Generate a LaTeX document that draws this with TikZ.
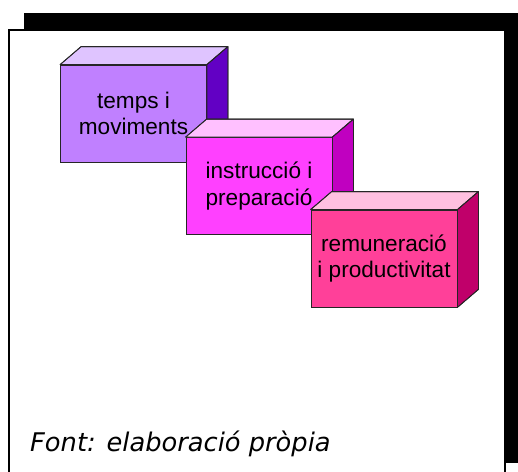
\documentclass[tikz,border=0pt]{standalone}
\usepackage{fontspec}
\setmainfont{Liberation Sans}
\newfontfamily\footfont{DejaVu Sans}
\usetikzlibrary{calc}
\definecolor{aF}{HTML}{C080FF}
\definecolor{aT}{HTML}{DFC4FF}
\definecolor{aR}{HTML}{6200C4}
\definecolor{bF}{HTML}{FF40FF}
\definecolor{bT}{HTML}{FFC0FF}
\definecolor{bR}{HTML}{C000C0}
\definecolor{cF}{HTML}{FF4099}
\definecolor{cT}{HTML}{FFC0E0}
\definecolor{cR}{HTML}{C0006A}
\tikzset{
  frontface/.style={draw=black!85, line width=0.8pt, minimum width=146pt, minimum height=97pt,
    inner sep=0pt, align=center, font=\fontsize{22.6}{26.5}\selectfont},
  sideface/.style={draw=black!85, line width=0.8pt, line join=round},
}
\newcommand{\cubesides}[3]{%
  \fill[#2, sideface] (#1.north west) -- ($(#1.north west)+(21,-18)$) -- ($(#1.north east)+(21,-18)$) -- (#1.north east) -- cycle;
  \fill[#3, sideface] (#1.north east) -- ($(#1.north east)+(21,-18)$) -- ($(#1.south east)+(21,-18)$) -- (#1.south east) -- cycle;
  \draw[sideface] (#1.north west) -- ($(#1.north west)+(21,-18)$) -- ($(#1.north east)+(21,-18)$) -- ($(#1.south east)+(21,-18)$) -- (#1.south east);
  \draw[sideface] (#1.north east) -- ($(#1.north east)+(21,-18)$);
}
\begin{document}
\begin{tikzpicture}[x=1pt,y=-1pt]
\useasboundingbox (0,0) rectangle (518,471);
\clip (0,0) rectangle (518,471);
\fill[black] (24,13) rectangle (520,463);
\draw[line width=2pt, fill=white] (9,30) rectangle (505,485);

\node[frontface, fill=aF] (c1) at (133.5,113.5) {temps i\\moviments};
\cubesides{c1}{aT}{aR}
\node[frontface, fill=bF] (c2) at (259,186) {instrucció i\\preparació};
\cubesides{c2}{bT}{bR}
\node[frontface, fill=cF] (c3) at (384,258.5) {remuneració\\i productivitat};
\cubesides{c3}{cT}{cR}

\node[anchor=base west, inner sep=0pt, font=\footfont\itshape\fontsize{25.7}{30}\selectfont] (src) at (30,451) {Font: elaboració pròpia};
\end{tikzpicture}
\end{document}
